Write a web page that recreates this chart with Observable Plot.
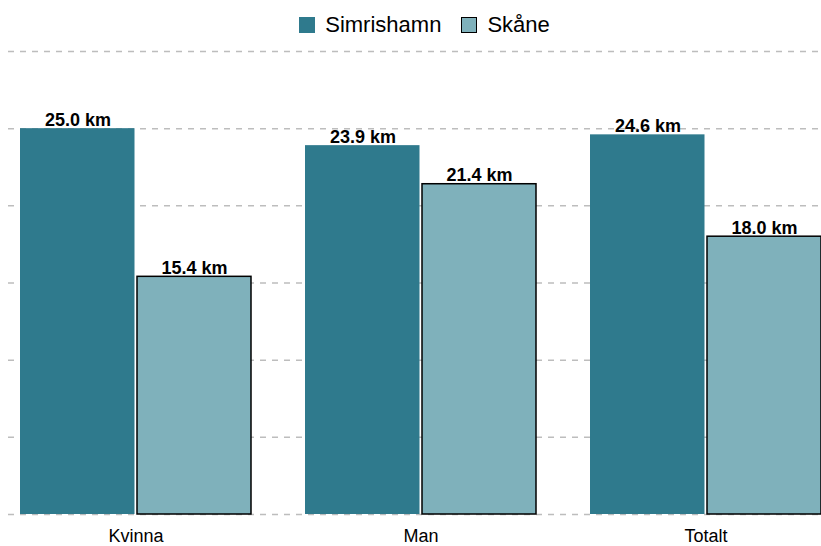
<!DOCTYPE html>
<html>
<head>
<meta charset="utf-8">
<script src="https://cdn.jsdelivr.net/npm/d3@7"></script>
<script src="https://cdn.jsdelivr.net/npm/@observablehq/plot@0.6"></script>
<style>
  body { margin: 0; background: #fff; font-family: "Liberation Sans", Arial, sans-serif; }
  #legend { height: 50px; display: flex; justify-content: center; align-items: center; gap: 0; padding-left: 28px; box-sizing: border-box; font-size: 22px; color: #000; }
  .item { display: flex; align-items: center; margin: 0 10px; }
  .sw { width: 16px; height: 16px; margin-right: 10px; box-sizing: border-box; }
</style>
</head>
<body>
<div id="legend"></div>
<div id="chart"></div>
<script>
const groups = ["Kvinna", "Man", "Totalt"];
const seriesNames = ["Simrishamn", "Skåne"];
const simrishamnValues = [25.0, 23.9, 24.6];
const skaneValues = [15.4, 21.4, 18.0];
const gridTicks = [0, 5, 10, 15, 20, 25, 30];
const colors = ["#2f7a8d", "#7fb1bb"];

const data = [];
groups.forEach((g, i) => {
  data.push({group: g, series: seriesNames[0], value: simrishamnValues[i]});
  data.push({group: g, series: seriesNames[1], value: skaneValues[i]});
});

const legend = document.getElementById("legend");
seriesNames.forEach((s, i) => {
  const it = document.createElement("div");
  it.className = "item";
  const sw = document.createElement("div");
  sw.className = "sw";
  sw.style.background = colors[i];
  if (i === 1) sw.style.border = "1.5px solid #000";
  it.appendChild(sw);
  const t = document.createElement("span");
  t.textContent = s;
  it.appendChild(t);
  legend.appendChild(it);
});

const sim = data.filter(d => d.series === seriesNames[0]);
const sk = data.filter(d => d.series === seriesNames[1]);
const fmt = d => `${d.value.toFixed(1)} km`;

const chart = Plot.plot({
  width: 821,
  height: 496,
  marginTop: 1,
  marginBottom: 32,
  marginLeft: 8,
  marginRight: 0,
  style: {fontFamily: "Liberation Sans, Arial, sans-serif", fontSize: "18px", color: "#000", background: "#fff", overflow: "visible"},
  x: {domain: groups, paddingInner: 0.19, paddingOuter: 0, insetLeft: 12, label: null},
  y: {domain: [0, 30], axis: null},
  marks: [
    Plot.ruleY(gridTicks, {stroke: "#bdbdbd", strokeWidth: 1.5, strokeDasharray: "6,6"}),
    Plot.barY(sim, {x: "group", y: "value", fill: colors[0], insetRight: 116.5}),
    Plot.barY(sk, {x: "group", y: "value", fill: colors[1], stroke: "#000", strokeWidth: 1.5, insetLeft: 117}),
    Plot.text(sim, {x: "group", y: "value", text: fmt, dx: -58, dy: -3, lineAnchor: "bottom", fontWeight: "bold", fontSize: 18, fill: "#000"}),
    Plot.text(sk, {x: "group", y: "value", text: fmt, dx: 58.5, dy: -3, lineAnchor: "bottom", fontWeight: "bold", fontSize: 18, fill: "#000"}),
    Plot.axisX({tickSize: 0, tickPadding: 15, label: null, fontSize: 18, fill: "#000"})
  ]
});
document.getElementById("chart").appendChild(chart);
</script>
</body>
</html>
